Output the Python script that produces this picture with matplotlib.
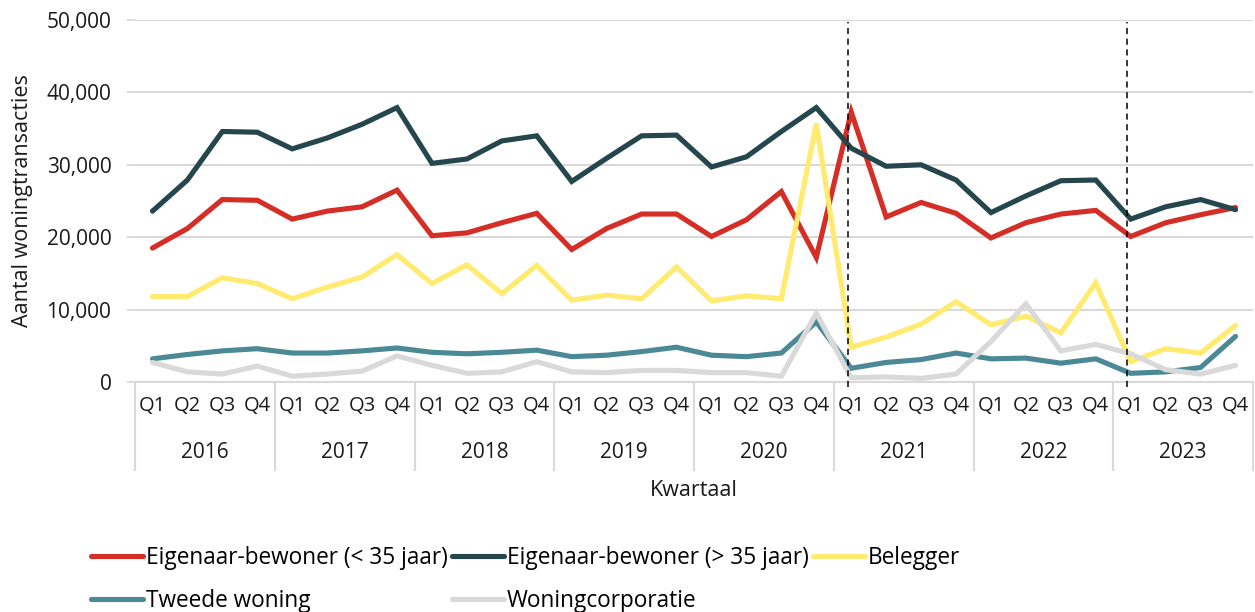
import numpy as np
import matplotlib.pyplot as plt
from matplotlib import transforms

plt.rcParams['font.family'] = ['Open Sans', 'DejaVu Sans']

years = ['2016', '2017', '2018', '2019', '2020', '2021', '2022', '2023']
quarters = ['Q1', 'Q2', 'Q3', 'Q4']

jong = [18500, 21200, 25200, 25100, 22500, 23600, 24200, 26500,
        20200, 20600, 22000, 23300, 18300, 21200, 23200, 23200,
        20100, 22400, 26300, 17200, 37300, 22800, 24800, 23300,
        19900, 22000, 23200, 23700, 20100, 22000, 23100, 24100]
oud = [23600, 27900, 34600, 34500, 32200, 33700, 35600, 37900,
       30200, 30800, 33300, 34000, 27700, 30900, 34000, 34100,
       29700, 31100, 34600, 37900, 32300, 29800, 30000, 27900,
       23400, 25700, 27800, 27900, 22500, 24200, 25200, 23800]
belegger = [11800, 11800, 14400, 13600, 11500, 13100, 14500, 17600,
            13600, 16200, 12200, 16100, 11300, 12000, 11500, 15900,
            11200, 11900, 11500, 35700, 4800, 6200, 8000, 11100,
            7900, 9100, 6800, 13700, 2800, 4600, 4000, 7800]
tweede = [3200, 3800, 4300, 4600, 4000, 4000, 4300, 4700,
          4100, 3900, 4100, 4400, 3500, 3700, 4200, 4800,
          3700, 3500, 4000, 8300, 1900, 2700, 3100, 4000,
          3200, 3300, 2600, 3200, 1200, 1400, 2000, 6300]
corporatie = [2700, 1400, 1100, 2200, 800, 1100, 1500, 3600,
              2300, 1200, 1400, 2800, 1400, 1300, 1600, 1600,
              1300, 1300, 800, 9500, 600, 700, 500, 1100,
              5600, 10800, 4300, 5200, 3900, 1700, 1100, 2300]

series = [
    ('Eigenaar-bewoner (< 35 jaar)', jong, '#d42e27'),
    ('Eigenaar-bewoner (> 35 jaar)', oud, '#24464c'),
    ('Belegger', belegger, '#ffeb70'),
    ('Tweede woning', tweede, '#4a8995'),
    ('Woningcorporatie', corporatie, '#d9d9d9'),
]
dashed_at = [19.9, 27.9]

fig = plt.figure(figsize=(12.55, 6.12), dpi=100)
ax = fig.add_axes([135 / 1255, 1 - 382 / 612, 1118 / 1255, 362 / 612])

n = len(years) * len(quarters)
x = np.arange(n)
lines = {}
for name, vals, col in series:
    lines[name], = ax.plot(x, vals, color=col, lw=3.7, solid_capstyle='round',
                           solid_joinstyle='miter', label=name, zorder=3)

trans = transforms.blended_transform_factory(ax.transData, ax.transAxes)
for xv in dashed_at:
    ax.plot([xv, xv], [-0.015, 0.995], color='black', lw=1.1, ls=(0, (4, 3)),
            transform=trans, clip_on=False, zorder=5)

ax.set_xlim(-0.5, n - 0.5)
ax.set_ylim(0, 50000)
ax.set_yticks(range(0, 50001, 10000))
ax.set_yticklabels([f'{v:,}' for v in range(0, 50001, 10000)])
ax.grid(axis='y', color='#d9d9d9', lw=1.5, zorder=0)
ax.set_axisbelow(True)
for s in ['left', 'right', 'top']:
    ax.spines[s].set_visible(False)
ax.spines['bottom'].set_color('#d9d9d9')
ax.spines['bottom'].set_linewidth(1.5)

ax.set_xticks(x)
ax.set_xticklabels(quarters * len(years))
ax.tick_params(axis='x', length=0, pad=10, labelsize=14.5, colors='#1a1a1a')
ax.tick_params(axis='y', length=6, width=1.3, color='#d9d9d9', pad=11,
               labelsize=15, labelcolor='#1a1a1a')

for k in range(len(years) + 1):
    ax.plot([k * 4 - 0.5] * 2, [0, -88 / 362], color='#d9d9d9', lw=1.5,
            transform=trans, clip_on=False)
for k, yr in enumerate(years):
    ax.text(k * 4 + 1.5, -71 / 362, yr, transform=trans, ha='center',
            va='center', fontsize=15, color='#1a1a1a')

ax.set_xlabel('Kwartaal', fontsize=15.5, color='#1a1a1a', labelpad=0)
ax.xaxis.set_label_coords(0.5, -98 / 362)
ax.set_ylabel('Aantal woningtransacties', fontsize=15.5, color='#1a1a1a')
ax.yaxis.set_label_coords(-102 / 1118, 0.5)

order = ['Eigenaar-bewoner (< 35 jaar)', 'Tweede woning',
         'Eigenaar-bewoner (> 35 jaar)', 'Woningcorporatie', 'Belegger']
fig.legend([lines[k] for k in order], order, ncol=3, frameon=False,
           loc='upper left', bbox_to_anchor=(91 / 1255, 1 - 546 / 612),
           fontsize=16.3, handlelength=2.3, handletextpad=0.12,
           columnspacing=0.2, labelspacing=0.82, borderpad=0, borderaxespad=0)

fig.savefig('out.png', dpi=100)
